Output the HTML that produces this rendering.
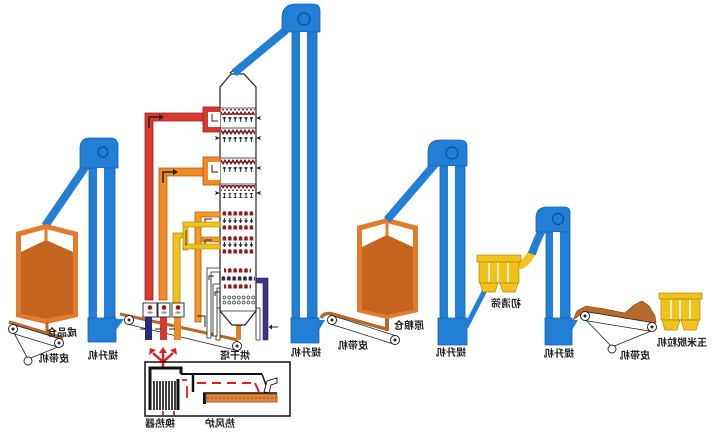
<!DOCTYPE html>
<html><head><meta charset="utf-8">
<style>
html,body{margin:0;padding:0;background:#fff;}
svg{display:block;}
text{font-family:"Liberation Sans","Noto Sans CJK SC",sans-serif;font-size:10px;font-weight:bold;fill:#222;}
</style></head><body>
<svg width="720" height="434" viewBox="0 0 720 434" xmlns="http://www.w3.org/2000/svg">
<defs>
<pattern id="blob" x="222" y="0" width="5.4" height="6" patternUnits="userSpaceOnUse"><path d="M0.6,5.5 L0.6,2.2 Q2.4,0 4.2,2.2 L4.2,5.5 Z" fill="#8b1c1c"/></pattern>
<pattern id="blobd" x="221" y="0" width="5.4" height="6" patternUnits="userSpaceOnUse"><path d="M0.6,5.5 L0.6,2.2 Q2.4,0 4.2,2.2 L4.2,5.5 Z" fill="#3a2050"/></pattern>
<pattern id="zig" x="221" y="0" width="4" height="6" patternUnits="userSpaceOnUse"><path d="M0,0 H4 L2,3 Z M0,3 L2,6 L0,6Z M4,3 L4,6 L2,6Z" fill="#7a1a1a"/></pattern>
<pattern id="mk" x="222" y="0" width="5.4" height="5" patternUnits="userSpaceOnUse"><path d="M2.4,0 V3.5 M1,2.2 L2.4,4.5 L3.8,2.2" stroke="#222" stroke-width="1" fill="none"/></pattern>
<pattern id="circ" x="222" y="0" width="4.8" height="5" patternUnits="userSpaceOnUse"><circle cx="2.4" cy="2.5" r="1.5" fill="none" stroke="#333" stroke-width="0.7"/></pattern>
</defs>

<!-- ============ ELEVATOR 1 ============ -->
<line x1="88" y1="163" x2="45" y2="226" stroke="#217fd6" stroke-width="8"/>
<path d="M80,168 L80,148 Q80,138 90,138 L110,138 Q118,138 118,146 L118,168 Z" fill="#217fd6" stroke="#1763b5" stroke-width="0.8"/>
<circle cx="103" cy="152" r="5" fill="none" stroke="#0e4f9a" stroke-width="1.2"/>
<rect x="89" y="168" width="26" height="150" fill="#217fd6" stroke="#1763b5" stroke-width="0.8"/>
<rect x="97" y="168" width="7" height="150" fill="#fff"/>
<rect x="88" y="318" width="28" height="24" fill="#217fd6" stroke="#1763b5" stroke-width="0.8"/>
<polygon points="116,319 124,319 116,330" fill="#217fd6"/>

<!-- ============ BIN 1 ============ -->
<polygon points="46,224 16,232 16,317 46,324 78,317 78,232" fill="#e47a2c"/>
<polygon points="46,229 21,236 21,314 46,319 73,314 73,236" fill="#fff"/>
<polygon points="46,240 21,252 21,314 46,319 73,314 73,252" fill="#c4641e"/>
<line x1="46" y1="226" x2="46" y2="241" stroke="#e47a2c" stroke-width="3"/>
<line x1="47" y1="322" x2="47" y2="334" stroke="#b8682a" stroke-width="3"/>

<!-- ============ CONVEYOR 1 ============ -->
<line x1="14" y1="333" x2="28" y2="359" stroke="#222" stroke-width="0.8"/>
<line x1="58" y1="347" x2="28" y2="359" stroke="#222" stroke-width="0.8"/>
<circle cx="28" cy="361" r="4" fill="#fff" stroke="#222" stroke-width="0.9"/>
<line x1="9" y1="322" x2="63" y2="338" stroke="#b8682a" stroke-width="3.5"/>
<line x1="13" y1="324.5" x2="59" y2="338.5" stroke="#222" stroke-width="0.8"/>
<line x1="13" y1="333.5" x2="59" y2="347.5" stroke="#222" stroke-width="0.8"/>
<circle cx="13" cy="329" r="4.5" fill="#fff" stroke="#222" stroke-width="1"/><circle cx="13" cy="329" r="1.5" fill="#222"/>
<circle cx="59" cy="343" r="4.5" fill="#fff" stroke="#222" stroke-width="1"/><circle cx="59" cy="343" r="1.5" fill="#222"/>

<!-- ============ CONVEYOR 2 ============ -->
<line x1="120" y1="314" x2="238" y2="340" stroke="#b8682a" stroke-width="3"/>
<line x1="129" y1="324.5" x2="237" y2="350.5" stroke="#222" stroke-width="0.8"/>
<circle cx="129" cy="320" r="4.5" fill="#fff" stroke="#222" stroke-width="1"/><circle cx="129" cy="320" r="1.5" fill="#222"/>
<circle cx="237" cy="346" r="4.5" fill="#fff" stroke="#222" stroke-width="1"/><circle cx="237" cy="346" r="1.5" fill="#222"/>

<!-- ============ DRYER TOWER ============ -->
<rect x="216" y="308" width="4" height="32" fill="#fff" stroke="#222" stroke-width="0.8"/>
<rect x="256" y="308" width="4" height="32" fill="#fff" stroke="#222" stroke-width="0.8"/>
<rect x="236" y="324" width="5" height="16" fill="#e08030"/>
<polygon points="220,87 231,74 244,74 256,87 256,311 245,325 232,325 220,311" fill="#fff" stroke="#222" stroke-width="1.2"/>
<g stroke="#222" stroke-width="0.8">
<line x1="220" y1="108" x2="256" y2="108"/><line x1="220" y1="128" x2="256" y2="128"/>
<line x1="220" y1="158" x2="256" y2="158"/><line x1="220" y1="184" x2="256" y2="184"/>
<line x1="220" y1="311" x2="256" y2="311"/>
</g>
<rect x="221" y="109" width="34" height="6" fill="url(#zig)"/>
<rect x="221" y="117" width="34" height="5" fill="url(#mk)"/>
<rect x="221" y="129" width="34" height="6" fill="url(#zig)"/>
<rect x="221" y="137" width="34" height="5" fill="url(#mk)"/>
<rect x="221" y="159" width="34" height="6" fill="url(#zig)"/>
<rect x="221" y="167" width="34" height="5" fill="url(#mk)"/>
<rect x="221" y="185" width="34" height="6" fill="url(#zig)"/>
<rect x="221" y="193" width="34" height="5" fill="url(#mk)"/>
<g transform="translate(0,210)"><rect x="222" y="0" width="33" height="6" fill="url(#blob)"/></g>
<g transform="translate(0,218)"><rect x="222" y="0" width="33" height="5" fill="url(#mk)"/></g>
<g transform="translate(0,224)"><rect x="222" y="0" width="33" height="6" fill="url(#blob)"/></g>
<g transform="translate(0,235)"><rect x="222" y="0" width="33" height="6" fill="url(#blob)"/></g>
<g transform="translate(0,242)"><rect x="222" y="0" width="33" height="5" fill="url(#mk)"/></g>
<g transform="translate(0,248)"><rect x="222" y="0" width="33" height="6" fill="url(#blob)"/></g>
<g transform="translate(0,267)"><rect x="224" y="0" width="27" height="6" fill="url(#blob)"/></g>
<g transform="translate(0,275)"><rect x="221" y="0" width="34" height="6" fill="url(#blobd)"/></g>
<g transform="translate(0,283)"><rect x="224" y="0" width="27" height="6" fill="url(#blob)"/></g>
<g transform="translate(0,295)"><rect x="222" y="0" width="33" height="5" fill="url(#circ)"/></g>
<g transform="translate(0,300)"><rect x="222" y="0" width="33" height="5" fill="url(#circ)"/></g>
<!-- side arrows -->
<g fill="#222">
<path d="M215,116 l5,2 l-5,2 l1,-2z"/><path d="M261,116 l-5,2 l5,2 l-1,-2z"/>
<path d="M215,136 l5,2 l-5,2 l1,-2z"/><path d="M261,136 l-5,2 l5,2 l-1,-2z"/>
<path d="M215,166 l5,2 l-5,2 l1,-2z"/><path d="M261,166 l-5,2 l5,2 l-1,-2z"/>
<path d="M215,191 l5,2 l-5,2 l1,-2z"/><path d="M261,191 l-5,2 l5,2 l-1,-2z"/>
</g>
<path d="M230,73 l4,-3 l4,3" stroke="#222" stroke-width="1.2" fill="none"/>

<!-- ============ HOT AIR DUCTS ============ -->
<!-- red -->
<polygon points="145,300 145,113 205,113 205,121 153,121 153,300" fill="#d93a2f" stroke="#9a1f1f" stroke-width="0.8"/>
<rect x="203" y="107" width="17" height="25" fill="#d93a2f" stroke="#9a1f1f" stroke-width="0.8"/>
<rect x="208" y="112" width="12" height="15" fill="#fff"/>
<polyline points="212,114 212,121 218,121" stroke="#222" stroke-width="1" fill="none"/>
<polyline points="149,128 149,117 160,117" stroke="#222" stroke-width="1.5" fill="none"/>
<polygon points="159,114 164,117 159,120" fill="#222"/>
<!-- orange 1 -->
<polygon points="159,300 159,168 205,168 205,176 167,176 167,300" fill="#f08a24" stroke="#b05a10" stroke-width="0.8"/>
<rect x="203" y="157" width="17" height="28" fill="#f08a24" stroke="#b05a10" stroke-width="0.8"/>
<rect x="208" y="162" width="12" height="18" fill="#fff"/>
<polyline points="212,165 212,172 218,172" stroke="#222" stroke-width="1" fill="none"/>
<polyline points="163,183 163,172 174,172" stroke="#222" stroke-width="1.5" fill="none"/>
<polygon points="173,169 178,172 173,175" fill="#222"/>
<!-- orange 2 -->
<polygon points="195,322 195,212 220,212 220,217 201,217 201,322" fill="#f39a2a" stroke="#b05a10" stroke-width="0.8"/>
<rect x="202" y="237" width="18" height="5" fill="#f39a2a" stroke="#b05a10" stroke-width="0.6"/>
<polyline points="205,222 205,219 212,219" stroke="#222" stroke-width="1" fill="none"/>
<polyline points="205,245 205,240 212,240" stroke="#222" stroke-width="1" fill="none"/>
<polyline points="197,316 205,316 205,327" stroke="#222" stroke-width="1" fill="none"/>
<!-- yellow -->
<polygon points="173,303 173,233 183,233 183,238 180,238 180,303" fill="#f2c21c" stroke="#b08a00" stroke-width="0.8"/>
<rect x="183" y="222" width="5" height="28" fill="#f2c21c" stroke="#b08a00" stroke-width="0.6"/>
<rect x="183" y="222" width="37" height="5" fill="#f2c21c" stroke="#b08a00" stroke-width="0.6"/>
<rect x="183" y="244" width="37" height="5" fill="#f2c21c" stroke="#b08a00" stroke-width="0.6"/>
<line x1="186" y1="230" x2="186" y2="246" stroke="#222" stroke-width="0.8"/>
<!-- white cold air ducts -->
<path d="M207,338 L207,268 L220,268 L220,272 L211,272 L211,338 Z" fill="#fff" stroke="#222" stroke-width="0.8"/>
<path d="M213,336 L213,284 L220,284 L220,288 L217,288 L217,336 Z" fill="#fff" stroke="#222" stroke-width="0.8"/>
<polyline points="209,280 209,276 214,276" stroke="#222" stroke-width="1" fill="none"/>
<polyline points="215,296 215,292 219,292" stroke="#222" stroke-width="1" fill="none"/>
<!-- purple -->
<polygon points="256,278 268,278 268,340 263,340 263,283 256,283" fill="#3c3580" stroke="#221c55" stroke-width="0.6"/>
<line x1="278" y1="327" x2="272" y2="327" stroke="#222" stroke-width="1"/>
<polygon points="272,324.5 268.5,327 272,329.5" fill="#222"/>

<!-- duct boxes -->
<rect x="145" y="317" width="7" height="23" fill="#2a2a80"/>
<rect x="160" y="317" width="7" height="23" fill="#d93a2f"/>
<rect x="174" y="317" width="7" height="23" fill="#f08a24"/>
<g stroke="#222" stroke-width="0.9" fill="#fff">
<rect x="143" y="303" width="14" height="14"/>
<rect x="158" y="303" width="12" height="14"/>
<rect x="172" y="303" width="12" height="14"/>
</g>
<g fill="#8b1c1c"><circle cx="150" cy="307.5" r="2.3"/><circle cx="164" cy="307.5" r="2.3"/><circle cx="178" cy="307.5" r="2.3"/></g>
<g fill="#999"><ellipse cx="150" cy="312.5" rx="2.8" ry="1.3"/><ellipse cx="164" cy="312.5" rx="2.8" ry="1.3"/><ellipse cx="178" cy="312.5" rx="2.8" ry="1.3"/></g>
<g stroke="#222" stroke-width="1"><line x1="140" y1="329" x2="146" y2="329"/><line x1="155" y1="329" x2="161" y2="329"/><line x1="169" y1="329" x2="175" y2="329"/></g>

<!-- ============ RED ARROWS ============ -->
<g stroke="#e02020" stroke-width="2.5" fill="none">
<line x1="163" y1="368" x2="163" y2="352"/>
<line x1="163" y1="362" x2="153" y2="353"/>
<line x1="163" y1="362" x2="173" y2="353"/>
</g>
<g fill="#e02020">
<polygon points="159,353 163,347 167,353"/>
<polygon points="149,355 150,348 156,350"/>
<polygon points="177,355 176,348 170,350"/>
</g>

<!-- ============ HEAT EXCHANGER / FURNACE ============ -->
<rect x="145" y="362" width="145" height="54" fill="none" stroke="#111" stroke-width="1.5"/>
<polyline points="150,410 150,368 181,368 181,374" stroke="#111" stroke-width="3" fill="none"/>
<line x1="181" y1="374" x2="262" y2="374" stroke="#111" stroke-width="2"/>
<line x1="262" y1="374" x2="266" y2="385" stroke="#111" stroke-width="1.5"/>
<line x1="178" y1="379" x2="178" y2="410" stroke="#111" stroke-width="3"/>
<g stroke="#111" stroke-width="1.6">
<line x1="154" y1="381" x2="154" y2="410"/><line x1="157" y1="381" x2="157" y2="410"/>
<line x1="160" y1="381" x2="160" y2="410"/><line x1="163" y1="381" x2="163" y2="410"/>
<line x1="166" y1="381" x2="166" y2="410"/><line x1="169" y1="381" x2="169" y2="410"/>
<line x1="172" y1="381" x2="172" y2="410"/><line x1="175" y1="381" x2="175" y2="410"/>
</g>
<line x1="193" y1="374" x2="193" y2="392" stroke="#111" stroke-width="2.5"/>
<line x1="197" y1="383" x2="255" y2="383" stroke="#e02020" stroke-width="2" stroke-dasharray="9 6"/>
<line x1="255" y1="383" x2="259" y2="392" stroke="#e02020" stroke-width="2"/>
<line x1="187" y1="398" x2="187" y2="386" stroke="#e02020" stroke-width="1.8"/>
<line x1="182" y1="380" x2="187" y2="380" stroke="#e02020" stroke-width="1.8"/>
<line x1="163" y1="415" x2="163" y2="411" stroke="#e02020" stroke-width="1.8"/>
<line x1="174" y1="415" x2="174" y2="411" stroke="#e02020" stroke-width="1.8"/>
<line x1="203" y1="393" x2="277" y2="393" stroke="#111" stroke-width="1.5"/>
<line x1="204.5" y1="393" x2="204.5" y2="404" stroke="#111" stroke-width="3"/>
<rect x="206" y="394" width="71" height="8" fill="#e0883a" stroke="#8a4a10" stroke-width="0.8"/>
<line x1="207" y1="398" x2="276" y2="398" stroke="#a0501a" stroke-width="1.2" stroke-dasharray="2 2"/>
<polygon points="264,392 267,381 277,378 277,383 271,385 269,393" fill="#fff" stroke="#111" stroke-width="0.9"/>

<!-- ============ ELEVATOR 2 ============ -->
<line x1="286" y1="30" x2="234" y2="73" stroke="#217fd6" stroke-width="8"/>
<path d="M282,32 L282,18 Q282,4 296,4 L313,4 Q320,4 320,11 L320,32 Z" fill="#217fd6" stroke="#1763b5" stroke-width="0.8"/>
<circle cx="304" cy="19" r="6" fill="none" stroke="#0e4f9a" stroke-width="1.2"/>
<rect x="292" y="32" width="25" height="286" fill="#217fd6" stroke="#1763b5" stroke-width="0.8"/>
<rect x="300" y="32" width="7" height="286" fill="#fff"/>
<rect x="291" y="318" width="28" height="25" fill="#217fd6" stroke="#1763b5" stroke-width="0.8"/>
<polygon points="319,320 325,320 319,330" fill="#217fd6"/>

<!-- ============ CONVEYOR 3 ============ -->
<path d="M321,318 Q324,312 332,314 L386,329" stroke="#b8682a" stroke-width="3.5" fill="none"/>
<line x1="387" y1="318" x2="387" y2="331" stroke="#b8682a" stroke-width="4"/>
<line x1="332" y1="315.5" x2="395" y2="335.5" stroke="#222" stroke-width="0.8"/>
<line x1="332" y1="324.5" x2="395" y2="344.5" stroke="#222" stroke-width="0.8"/>
<circle cx="332" cy="320" r="4.5" fill="#fff" stroke="#222" stroke-width="1"/><circle cx="332" cy="320" r="1.5" fill="#222"/>
<circle cx="395" cy="340" r="4.5" fill="#fff" stroke="#222" stroke-width="1"/><circle cx="395" cy="340" r="1.5" fill="#222"/>

<!-- ============ BIN 2 ============ -->
<polygon points="387,218 357,226 357,312 387,319 418,312 418,226" fill="#e47a2c"/>
<polygon points="387,223 362,230 362,310 387,315 413,310 413,230" fill="#fff"/>
<polygon points="387,235 362,247 362,310 387,315 413,310 413,247" fill="#c4641e"/>
<line x1="387" y1="220" x2="387" y2="236" stroke="#e47a2c" stroke-width="3"/>

<!-- ============ ELEVATOR 3 ============ -->
<line x1="436" y1="163" x2="387" y2="220" stroke="#217fd6" stroke-width="8"/>
<path d="M428,166 L428,152 Q428,140 440,140 L460,140 Q467,140 467,147 L467,166 Z" fill="#217fd6" stroke="#1763b5" stroke-width="0.8"/>
<circle cx="452" cy="153" r="6" fill="none" stroke="#0e4f9a" stroke-width="1.2"/>
<rect x="440" y="166" width="25" height="152" fill="#217fd6" stroke="#1763b5" stroke-width="0.8"/>
<rect x="448" y="166" width="7" height="152" fill="#fff"/>
<rect x="438" y="318" width="29" height="27" fill="#217fd6" stroke="#1763b5" stroke-width="0.8"/>
<line x1="486" y1="288" x2="466" y2="327" stroke="#217fd6" stroke-width="5"/>

<!-- ============ SCREEN ============ -->
<path d="M519,266 Q528,262 532,252" stroke="#f2c21c" stroke-width="8" fill="none"/>
<path d="M532,254 Q536,242 542,230" stroke="#217fd6" stroke-width="8" fill="none"/>
<rect x="477" y="255" width="44" height="7" fill="#f2c21c" stroke="#b08a00" stroke-width="0.7"/>
<rect x="479" y="262" width="40" height="21" fill="#f2c21c" stroke="#b08a00" stroke-width="0.7"/>
<g stroke="#fff" stroke-width="1.5"><line x1="489" y1="263" x2="489" y2="282"/><line x1="498" y1="263" x2="498" y2="282"/><line x1="508" y1="263" x2="508" y2="282"/></g>
<polygon points="480,283 498,283 495,292 483,292" fill="#f2c21c" stroke="#b08a00" stroke-width="0.7"/>
<polygon points="500,283 518,283 515,292 503,292" fill="#f2c21c" stroke="#b08a00" stroke-width="0.7"/>

<!-- ============ ELEVATOR 4 ============ -->
<path d="M536,232 L536,218 Q536,207 547,207 L564,207 Q570,207 570,213 L570,232 Z" fill="#217fd6" stroke="#1763b5" stroke-width="0.8"/>
<circle cx="558" cy="219" r="5.5" fill="none" stroke="#0e4f9a" stroke-width="1.2"/>
<rect x="546" y="232" width="24" height="86" fill="#217fd6" stroke="#1763b5" stroke-width="0.8"/>
<rect x="553" y="232" width="7" height="86" fill="#fff"/>
<rect x="545" y="318" width="27" height="27" fill="#217fd6" stroke="#1763b5" stroke-width="0.8"/>
<polygon points="572,320 578,320 572,330" fill="#217fd6"/>

<!-- ============ CONVEYOR 4 ============ -->
<line x1="586" y1="320" x2="612" y2="347" stroke="#222" stroke-width="0.8"/>
<line x1="651" y1="331" x2="612" y2="347" stroke="#222" stroke-width="0.8"/>
<circle cx="612" cy="349" r="4" fill="#fff" stroke="#222" stroke-width="0.9"/>
<polygon points="573,320 577,311 586,306 605,309 625,313 634,305 642,301 649,306 655,316 656,323 652,322.5 585,311.5" fill="#b86a2c" stroke="#7a4010" stroke-width="0.6"/>
<line x1="585" y1="311.5" x2="652" y2="322.5" stroke="#222" stroke-width="0.8"/>
<line x1="585" y1="320.5" x2="652" y2="331.5" stroke="#222" stroke-width="0.8"/>
<circle cx="585" cy="316" r="4.5" fill="#fff" stroke="#222" stroke-width="1"/><circle cx="585" cy="316" r="1.5" fill="#222"/>
<circle cx="652" cy="327" r="4.5" fill="#fff" stroke="#222" stroke-width="1"/><circle cx="652" cy="327" r="1.5" fill="#222"/>

<!-- ============ SHELLER ============ -->
<rect x="659" y="293" width="43" height="6" fill="#f2c21c" stroke="#b08a00" stroke-width="0.7"/>
<rect x="661" y="299" width="39" height="21" fill="#f2c21c" stroke="#b08a00" stroke-width="0.7"/>
<g stroke="#fff" stroke-width="1.5"><line x1="671" y1="300" x2="671" y2="319"/><line x1="680" y1="300" x2="680" y2="319"/><line x1="690" y1="300" x2="690" y2="319"/></g>
<polygon points="662,320 680,320 677,330 665,330" fill="#f2c21c" stroke="#b08a00" stroke-width="0.7"/>
<polygon points="681,320 699,320 696,330 684,330" fill="#f2c21c" stroke="#b08a00" stroke-width="0.7"/>

<!-- ============ LABELS (mirrored) ============ -->
<text transform="translate(62,336) scale(-1,1)" text-anchor="middle">成品仓</text>
<text transform="translate(54,362) scale(-1,1)" text-anchor="middle">皮带机</text>
<text transform="translate(103,359) scale(-1,1)" text-anchor="middle">提升机</text>
<text transform="translate(235,359) scale(-1,1)" text-anchor="middle">烘干塔</text>
<text transform="translate(306,356) scale(-1,1)" text-anchor="middle">提升机</text>
<text transform="translate(353,349) scale(-1,1)" text-anchor="middle">皮带机</text>
<text transform="translate(409,329) scale(-1,1)" text-anchor="middle">原粮仓</text>
<text transform="translate(451,356) scale(-1,1)" text-anchor="middle">提升机</text>
<text transform="translate(506,307) scale(-1,1)" text-anchor="middle">初清筛</text>
<text transform="translate(559,357) scale(-1,1)" text-anchor="middle">提升机</text>
<text transform="translate(635,359) scale(-1,1)" text-anchor="middle">皮带机</text>
<text transform="translate(682,346) scale(-1,1)" text-anchor="middle">玉米脱粒机</text>
<text transform="translate(160,427) scale(-1,1)" text-anchor="middle">换热器</text>
<text transform="translate(220,427) scale(-1,1)" text-anchor="middle">热风炉</text>
</svg>
</body></html>
